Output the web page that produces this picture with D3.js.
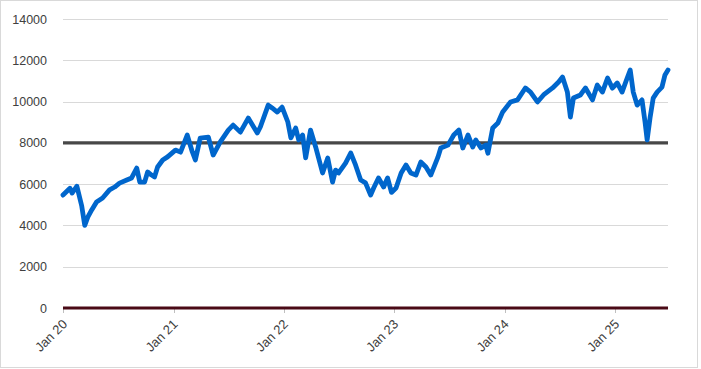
<!DOCTYPE html>
<html>
<head>
<meta charset="utf-8">
<script src="https://cdn.jsdelivr.net/npm/d3@7"></script>
<style>
body{margin:0;background:#fff;}
svg{display:block;}
</style>
</head>
<body>
<svg id="chart" width="701" height="369"></svg>
<script>
const dates = ["2020-01-01","2020-01-24","2020-01-31","2020-02-16","2020-03-03","2020-03-13","2020-03-23","2020-04-05","2020-04-21","2020-05-11","2020-06-03","2020-06-20","2020-07-06","2020-07-30","2020-08-15","2020-09-01","2020-09-11","2020-09-27","2020-10-07","2020-10-20","2020-10-30","2020-11-09","2020-11-26","2020-12-12","2021-01-07",
"2021-01-24","2021-02-15","2021-03-04","2021-03-14","2021-03-30","2021-04-26","2021-05-12","2021-06-04","2021-07-01","2021-07-17","2021-08-10","2021-09-05","2021-10-05","2021-10-15","2021-11-10","2021-11-23","2021-12-10","2021-12-26",
"2022-01-14","2022-01-24","2022-02-09","2022-02-19","2022-03-04","2022-03-14","2022-03-30","2022-04-16","2022-05-09","2022-05-26","2022-06-11","2022-06-21","2022-07-01","2022-07-24","2022-08-10","2022-08-26","2022-09-12","2022-09-28","2022-10-15","2022-10-25","2022-11-10","2022-11-27","2022-12-10","2022-12-23",
"2023-01-07","2023-01-24","2023-02-09","2023-02-25","2023-03-14","2023-03-30","2023-04-16","2023-05-02","2023-05-26","2023-06-04","2023-06-28","2023-07-17","2023-08-03","2023-08-16","2023-09-02","2023-09-18","2023-09-28","2023-10-15","2023-10-31","2023-11-07","2023-11-23","2023-12-10","2023-12-26",
"2024-01-21","2024-02-13","2024-03-10","2024-03-27","2024-04-19","2024-05-09","2024-06-08","2024-06-28","2024-07-11","2024-07-27","2024-08-06","2024-08-16","2024-09-08","2024-09-25","2024-10-18","2024-11-03","2024-11-20","2024-12-07","2024-12-23",
"2025-01-08","2025-01-24","2025-02-10","2025-02-20","2025-03-02","2025-03-15","2025-03-31","2025-04-10","2025-04-17","2025-04-27","2025-05-07","2025-05-20","2025-06-05","2025-06-15","2025-06-25"];
const values = [5470,5800,5570,5900,4940,4000,4400,4750,5140,5330,5720,5860,6050,6200,6300,6780,6100,6100,6590,6440,6350,6830,7170,7320,7650,
7550,8380,7560,7170,8230,8280,7410,8040,8620,8860,8520,9200,8480,8770,9830,9690,9490,9730,
9010,8240,8720,8140,8380,7270,8620,7800,6540,7270,6100,6680,6540,7020,7510,6930,6200,6060,5470,5810,6300,5860,6300,5600,
5810,6540,6930,6540,6440,7070,6830,6440,7320,7750,7890,8380,8620,7750,8380,7800,8140,7750,7890,7500,8720,8960,9500,
9980,10080,10660,10460,9980,10320,10660,10950,11190,10460,9250,10170,10320,10660,10080,10800,10460,11140,10650,
10900,10460,11140,11530,10460,9830,10080,9010,8140,9250,10170,10460,10700,11290,11530];
const yTicks = [0,2000,4000,6000,8000,10000,12000,14000];
const xTickDates = ["2020-01-01","2021-01-01","2022-01-01","2023-01-01","2024-01-01","2025-01-01"];
const xTickLabels = ["Jan 20","Jan 21","Jan 22","Jan 23","Jan 24","Jan 25"];
const refLevel = 8000;
const xStart = "2020-01-01", xEnd = "2025-06-25";

const parse = d3.timeParse("%Y-%m-%d");
const data = dates.map((d,i)=>({date:parse(d), value:values[i]}));

const svg = d3.select("#chart");
const m = {left:63, right:33, top:19, bottom:61};
const W = 701, H = 369;
const x = d3.scaleTime().domain([parse(xStart), parse(xEnd)]).range([m.left, W - m.right]);
const y = d3.scaleLinear().domain([0,14000]).range([H - m.bottom, m.top]);

svg.append("rect").attr("x",0.5).attr("y",0.5).attr("width",697).attr("height",367)
  .attr("fill","#fff").attr("stroke","#d9d9d9");

const font = "'Liberation Sans', Arial, sans-serif";

// gridlines
svg.append("g").selectAll("line").data(yTicks.filter(t=>t>0)).join("line")
  .attr("x1", m.left).attr("x2", W - m.right)
  .attr("y1", d=>Math.round(y(d))+0.5).attr("y2", d=>Math.round(y(d))+0.5)
  .attr("stroke","#d9d9d9").attr("stroke-width",1);

// y labels
svg.append("g").selectAll("text").data(yTicks).join("text")
  .attr("x", 47).attr("y", d=>y(d)+4.5)
  .attr("text-anchor","end").attr("font-family",font).attr("font-size",12.5)
  .attr("fill","#404040").text(d=>d);

// x ticks
const xt = xTickDates.map(parse);
svg.append("g").selectAll("line").data(xt).join("line")
  .attr("x1", d=>Math.round(x(d))+0.5).attr("x2", d=>Math.round(x(d))+0.5)
  .attr("y1", y(0)).attr("y2", y(0)+5)
  .attr("stroke","#bfbfbf");

svg.append("g").selectAll("text").data(xt).join("text")
  .attr("transform", d=>`translate(${x(d)+5},${y(0)+17}) rotate(-45)`)
  .attr("text-anchor","end").attr("font-family",font).attr("font-size",13)
  .attr("fill","#404040").text((d,i)=>xTickLabels[i]);

// reference line 8000
svg.append("line").attr("x1", m.left).attr("x2", W - m.right)
  .attr("y1", y(refLevel)).attr("y2", y(refLevel))
  .attr("stroke","#474747").attr("stroke-width",3.2);

// data line
const line = d3.line().x(d=>x(d.date)).y(d=>y(d.value));
svg.append("path").datum(data).attr("d", line)
  .attr("fill","none").attr("stroke","#0066CC").attr("stroke-width",4.8)
  .attr("stroke-linejoin","round").attr("stroke-linecap","round");

// zero line
svg.append("line").attr("x1", m.left).attr("x2", W - m.right)
  .attr("y1", y(0)).attr("y2", y(0))
  .attr("stroke","#4a0a16").attr("stroke-width",3);
</script>
</body>
</html>
